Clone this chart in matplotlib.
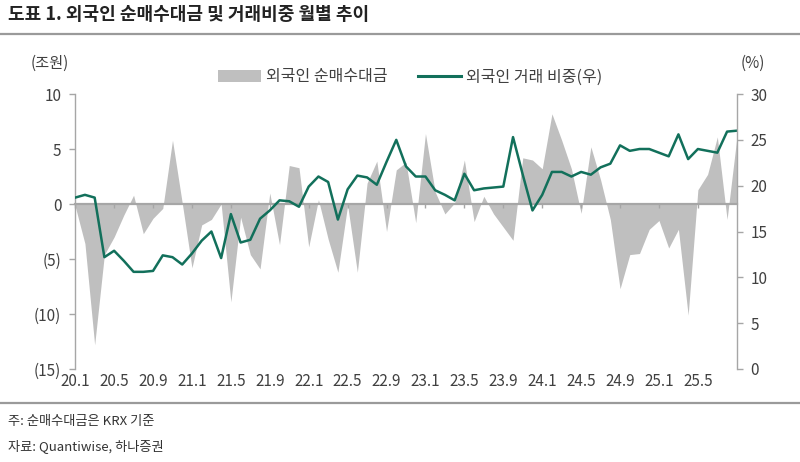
import numpy as np
import matplotlib
matplotlib.use('Agg')
import matplotlib.pyplot as plt
from matplotlib.patches import Patch
from matplotlib.lines import Line2D

plt.rcParams['font.family'] = ['Noto Sans CJK KR', 'DejaVu Sans']

# 월별 데이터 (20.1 ~ 25.9)
years = [20, 21, 22, 23, 24, 25]
months = [f'{y}.{m}' for y in years for m in range(1, 13)][:69]

# 외국인 순매수대금 (조원)
net_buy = [-0.2, -3.6, -12.8, -4.6, -3.0, -1.0, 0.8, -2.7, -1.3, -0.4,
           5.8, 0.1, -5.8, -1.9, -1.4, 0.0, -8.9, -1.2, -4.6, -5.9,
           1.0, -3.7, 3.5, 3.3, -3.9, 0.4, -3.2, -6.2, -0.1, -6.2,
           1.9, 3.9, -2.5, 3.1, 3.8, -1.7, 6.4, 1.1, -0.9, 0.1,
           4.0, -1.6, 0.7, -0.9, -2.1, -3.3, 4.2, 4.0, 3.2, 8.2,
           5.8, 3.2, -0.85, 5.2, 2.2, -1.4, -7.7, -4.6, -4.5, -2.3,
           -1.5, -4.0, -2.3, -10.1, 1.3, 2.7, 6.1, -1.4, 6.0]

# 외국인 거래 비중 (%)
share = [18.7, 19.0, 18.7, 12.2, 12.9, 11.8, 10.6, 10.6, 10.7, 12.4,
         12.2, 11.4, 12.6, 14.0, 15.0, 12.1, 16.9, 13.8, 14.1, 16.4,
         17.3, 18.4, 18.3, 17.7, 19.9, 21.0, 20.4, 16.3, 19.6, 21.1,
         20.9, 20.1, 22.6, 25.0, 22.1, 21.0, 21.0, 19.5, 19.0, 18.4,
         21.3, 19.5, 19.7, 19.8, 19.9, 25.3, 21.2, 17.3, 19.0, 21.5,
         21.5, 21.0, 21.5, 21.2, 22.0, 22.4, 24.4, 23.8, 24.0, 24.0,
         23.6, 23.2, 25.6, 22.9, 24.0, 23.8, 23.6, 25.9, 26.0]

left_ticks = [10, 5, 0, -5, -10, -15]
left_labels = ['10', '5', '0', '(5)', '(10)', '(15)']
right_ticks = [0, 5, 10, 15, 20, 25, 30]

x = np.arange(len(months))
gray = '#bfbfbf'
axis_gray = '#a6a6a6'
green = '#12705b'
txt = '#404040'
fs = 11

fig = plt.figure(figsize=(8, 4.62), dpi=100)
ax = fig.add_axes([0.094, 0.2013, 0.827, 0.5952])

ax.fill_between(x, net_buy, 0, color=gray, lw=0)
ax.set_xlim(0, len(months) - 1)
ax.set_ylim(-15, 10)
ax.set_yticks(left_ticks)
ax.set_yticklabels(left_labels)

for s in ['top', 'right']:
    ax.spines[s].set_visible(False)
ax.spines['left'].set_color(axis_gray)
ax.spines['left'].set_linewidth(1.0)
ax.spines['bottom'].set_position(('data', 0))
ax.spines['bottom'].set_color(axis_gray)
ax.spines['bottom'].set_linewidth(1.6)
ax.spines['bottom'].set_zorder(3)

tick_idx = x[:65:4]
ax.set_xticks(tick_idx)
ax.tick_params(axis='x', length=3, width=1, color=axis_gray, direction='out', labelbottom=False)
ax.tick_params(axis='y', length=4, width=1, color=axis_gray, direction='out',
               labelsize=fs, labelcolor=txt, pad=6)

# 카테고리 라벨은 축 하단에
sec = ax.secondary_xaxis(0.0)
sec.set_xticks(tick_idx)
sec.set_xticklabels([months[i] for i in tick_idx])
sec.tick_params(length=0, labelsize=fs, labelcolor=txt, pad=3)
sec.spines['bottom'].set_visible(False)

ax2 = ax.twinx()
ax2.plot(x, share, color=green, lw=1.8)
ax2.set_ylim(0, 30)
ax2.set_yticks(right_ticks)
for s in ['top', 'left', 'bottom']:
    ax2.spines[s].set_visible(False)
ax2.spines['right'].set_color(axis_gray)
ax2.spines['right'].set_linewidth(1.0)
ax2.tick_params(axis='y', length=4, width=1, color=axis_gray, direction='out',
                labelsize=fs, labelcolor=txt, pad=6)

# 단위
fig.text(50 / 800, 1 - 63 / 462, '(조원)', ha='center', va='center', fontsize=fs, color=txt)
fig.text(753 / 800, 1 - 63 / 462, '(%)', ha='center', va='center', fontsize=fs, color=txt)

# 범례
handles = [Patch(color=gray, lw=0), Line2D([], [], color=green, lw=2.2)]
fig.legend(handles, ['외국인 순매수대금', '외국인 거래 비중(우)'], loc='center',
           bbox_to_anchor=(0.5125, 1 - 77 / 462), ncol=2, frameon=False,
           fontsize=11.5, handlelength=2.7, handletextpad=0.3, columnspacing=1.9,
           labelcolor=txt)

# 제목, 구분선, 주석
fig.text(8 / 800, 1 - 15 / 462, '도표 1. 외국인 순매수대금 및 거래비중 월별 추이',
         ha='left', va='center', fontsize=13, fontweight='bold', color='#222222')
fig.add_artist(Line2D([0, 1], [1 - 34 / 462] * 2, color='#9a9a9a', lw=1.6))
fig.add_artist(Line2D([0, 1], [1 - 403 / 462] * 2, color='#9a9a9a', lw=1.6))
fig.text(8 / 800, 1 - 421 / 462, '주: 순매수대금은 KRX 기준', ha='left', va='center',
         fontsize=9.5, color='#333333')
fig.text(8 / 800, 1 - 446 / 462, '자료: Quantiwise, 하나증권', ha='left', va='center',
         fontsize=9.5, color='#333333')

fig.savefig('out.png', dpi=100)
